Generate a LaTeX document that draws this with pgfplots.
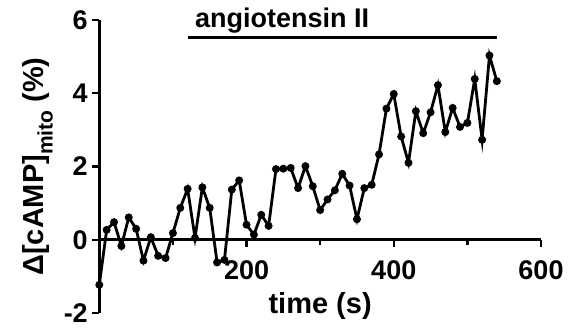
\documentclass[border=0pt]{standalone}
\usepackage{fontspec}
\setmainfont{Liberation Sans}
\usepackage{pgfplots}
\usepackage{pgfplotstable}
\pgfplotsset{compat=1.18}

% mitochondrial cAMP response, sampled every 10 s
\pgfplotstableread{
t v
0 -1.23
10 0.27
20 0.48
30 -0.17
40 0.61
50 0.30
60 -0.57
70 0.07
80 -0.44
90 -0.50
100 0.18
110 0.87
120 1.39
130 0.05
140 1.43
150 0.87
160 -0.62
170 -0.55
180 1.37
190 1.62
200 0.41
210 0.14
220 0.68
230 0.38
240 1.93
250 1.94
260 1.96
270 1.41
280 2.01
290 1.46
300 0.81
310 1.10
320 1.35
330 1.80
340 1.48
350 0.56
360 1.41
370 1.50
380 2.33
390 3.58
400 3.98
410 2.82
420 2.10
430 3.51
440 2.91
450 3.48
460 4.22
470 2.94
480 3.60
490 3.08
500 3.19
510 4.39
520 2.73
530 5.03
540 4.33
}\camp

\pgfplotsset{
  frame/.style={
    scale only axis,
    width=441.7pt, height=293pt,
    xmin=0, xmax=600, ymin=-2, ymax=6,
    clip=false,
    axis line style={-, line width=2.6pt},
    every tick/.style={black, line width=2.4pt},
    major tick length=7pt, minor tick length=5pt,
    tick align=outside,
    ticklabel style={font=\fontsize{27}{31}\selectfont\bfseries},
  },
}

\begin{document}
\begin{tikzpicture}
% vertical axis on the left
\begin{axis}[
  axis x line=none, axis y line=left,
  frame, name=ax,
  xtick=\empty,
  ytick={-2,0,2,4,6}, yticklabels={-2,0,2,4,6},
  yticklabel style={anchor=east, xshift=-1pt},
  ylabel={Δ[cAMP]\raisebox{-0.32em}{\fontsize{21}{24}\selectfont mito} (\%)},
  every axis y label/.style={at={(axis description cs:0,0.5)}, rotate=90,
    anchor=base, yshift=56pt, font=\fontsize{29}{34}\selectfont\bfseries},
]
\end{axis}
% time axis through zero, with the trace
\begin{axis}[
  axis x line=middle, axis y line=none,
  frame,
  ytick=\empty,
  xtick={200,400,600}, xticklabels={200,400,600},
  minor xtick={100,300,500},
  xticklabel style={anchor=north, yshift=-10pt},
  xlabel={time (s)},
  every axis x label/.style={at={(axis description cs:0.5,0)}, anchor=base,
    yshift=-1pt, font=\fontsize{29}{34}\selectfont\bfseries},
]
  \addplot[black, line width=2.8pt, mark=*, mark size=2.5pt] table[x=t, y=v] {\camp};
  % agonist application period
  \draw[black, line width=2.6pt] (axis cs:120,5.52) -- (axis cs:540,5.52);
  \node[anchor=base west, inner sep=0pt, font=\fontsize{27}{32}\selectfont\bfseries]
    at (axis cs:130,5.79) {angiotensin II};
\end{axis}
\pgfresetboundingbox
\path[use as bounding box]
  ([xshift=-99.3pt, yshift=-23pt]ax.south west) rectangle ([xshift=28pt, yshift=20pt]ax.north east);
\end{tikzpicture}
\end{document}
